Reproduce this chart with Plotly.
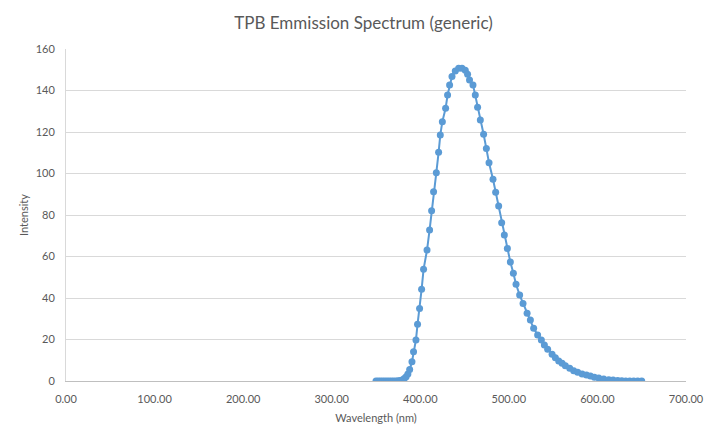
import plotly.graph_objects as go

wavelength = [350, 352.5, 355, 357.5, 360, 362.5, 365, 367.5, 370, 372.5, 375, 377.5,
              380, 382, 384, 386, 388, 390.6, 392.4, 395.1, 396.9, 399.2, 401.5, 403.7,
              407.6, 410.5, 412.8, 415.0, 418.1, 420.7, 422.6, 424.9, 428.6, 430.8, 433.1,
              435.8, 439.5, 443.3, 447.1, 450.8, 453.4, 455.6, 459.5, 462.1, 464.7, 467.8,
              471.5, 474.6, 477.6, 482.1, 485.1, 488.5, 491.9, 494.9, 498.3, 501.7, 505.1,
              508.1, 512.2, 516.0, 520.6, 524.3, 528.0, 532.5, 536.7, 540.1, 543.8, 548.8,
              552.5, 556.3, 560.1, 563.8, 568.7, 573.2, 577.7, 582.7, 587.6, 592.1, 596.6,
              601.5, 607.1, 612.8, 617.7, 622.9, 627.5, 632, 636.5, 641, 645.5, 650]
intensity = [0, 0, 0, 0, 0, 0, 0, 0, 0, 0, 0.1, 0.3,
             0.6, 1.2, 2.0, 3.4, 5.5, 9.3, 14.1, 19.8, 27.3, 35, 44.2, 53.8,
             63.1, 72.8, 82.1, 91.2, 100.4, 110.2, 118.6, 125, 131.4, 137.8, 142.7,
             146.7, 149.4, 150.7, 150.7, 149.8, 147.8, 145.1, 142.7, 137.8, 131.9, 125.8,
             118.9, 112, 105.2, 97.2, 91, 84.3, 76.3, 70.4, 63.9, 57.3, 51.9,
             46.6, 41.4, 37.4, 32.6, 29.4, 25.4, 22.2, 19.8, 17.3, 15.3, 12.9,
             11.2, 9.6, 8.5, 7.4, 6.1, 5.0, 4.2, 3.4, 2.9, 2.4, 1.8,
             1.4, 1.0, 0.6, 0.5, 0.2, 0.1, 0.05, 0, 0, 0, 0]

x_ticks = [0, 100, 200, 300, 400, 500, 600, 700]
y_ticks = [0, 20, 40, 60, 80, 100, 120, 140, 160]

blue = "#5B9BD5"
grey_text = "#595959"

fig = go.Figure()
fig.add_trace(go.Scatter(
    x=wavelength, y=intensity, mode="lines+markers",
    line=dict(color=blue, width=2),
    marker=dict(color=blue, size=7),
    showlegend=False,
))

fig.update_layout(
    width=711, height=434,
    margin=dict(l=58, r=33, t=41, b=61),
    paper_bgcolor="white", plot_bgcolor="white",
    font=dict(family="Lato, Carlito, Calibri, sans-serif", color=grey_text, size=11),
    title=dict(text="TPB Emmission Spectrum (generic)", x=0.5, xanchor="center",
               y=0.966, yanchor="middle",
               font=dict(size=17, color=grey_text)),
    xaxis=dict(range=[0, 700], tickvals=x_ticks,
               ticktext=[f"{v:.2f}" for v in x_ticks],
               showgrid=False, showline=True, linecolor="#BFBFBF", linewidth=1,
               zeroline=False, ticks="", ticklabelstandoff=8,
               title=dict(text="Wavelength (nm)", font=dict(size=11, color=grey_text),
                          standoff=10),
               tickfont=dict(size=11, color=grey_text)),
    yaxis=dict(range=[0, 160], tickvals=y_ticks,
               showgrid=True, gridcolor="#D9D9D9", gridwidth=1,
               showline=True, linecolor="#D9D9D9", linewidth=1,
               zeroline=False, ticks="", ticklabelstandoff=8,
               title=dict(text="Intensity", font=dict(size=11, color=grey_text),
                          standoff=4),
               tickfont=dict(size=11, color=grey_text)),
)

fig.write_html("out.html")
